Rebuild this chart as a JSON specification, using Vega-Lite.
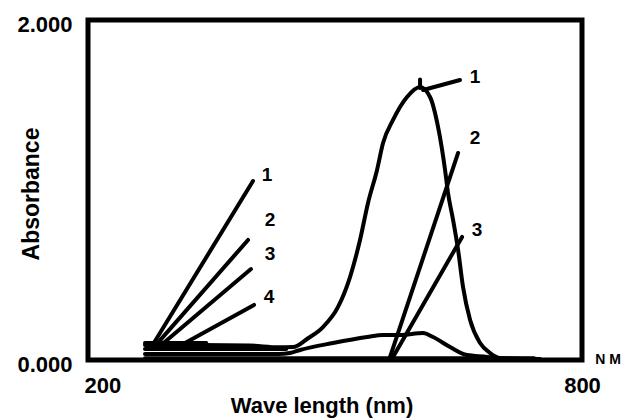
{
  "$schema": "https://vega.github.io/schema/vega-lite/v6.json",
  "width": 494,
  "height": 340,
  "autosize": "none",
  "padding": {"left": 88, "top": 20, "right": 43, "bottom": 60},
  "background": "white",
  "config": {
    "view": {"stroke": "black", "strokeWidth": 5},
    "font": "Liberation Sans"
  },
  "datasets": {
    "curves": [
      {"s": "c1", "o": 1, "x": 253.3, "y": 0.088},
      {"s": "c1", "o": 2, "x": 322.1, "y": 0.088},
      {"s": "c1", "o": 3, "x": 384.7, "y": 0.085},
      {"s": "c1", "o": 4, "x": 420.0, "y": 0.075},
      {"s": "c1", "o": 5, "x": 438.5, "y": 0.076},
      {"s": "c1", "o": 6, "x": 457.3, "y": 0.128},
      {"s": "c1", "o": 7, "x": 476.0, "y": 0.194},
      {"s": "c1", "o": 8, "x": 494.8, "y": 0.312},
      {"s": "c1", "o": 9, "x": 509.8, "y": 0.488},
      {"s": "c1", "o": 10, "x": 522.3, "y": 0.706},
      {"s": "c1", "o": 11, "x": 532.3, "y": 0.924},
      {"s": "c1", "o": 12, "x": 543.6, "y": 1.118},
      {"s": "c1", "o": 13, "x": 551.1, "y": 1.276},
      {"s": "c1", "o": 14, "x": 563.6, "y": 1.412},
      {"s": "c1", "o": 15, "x": 581.1, "y": 1.547},
      {"s": "c1", "o": 16, "x": 597.4, "y": 1.606},
      {"s": "c1", "o": 17, "x": 609.9, "y": 1.547},
      {"s": "c1", "o": 18, "x": 619.9, "y": 1.371},
      {"s": "c1", "o": 19, "x": 628.7, "y": 1.118},
      {"s": "c1", "o": 20, "x": 632.4, "y": 0.982},
      {"s": "c1", "o": 21, "x": 638.7, "y": 0.824},
      {"s": "c1", "o": 22, "x": 645.0, "y": 0.647},
      {"s": "c1", "o": 23, "x": 651.2, "y": 0.429},
      {"s": "c1", "o": 24, "x": 660.0, "y": 0.235},
      {"s": "c1", "o": 25, "x": 672.5, "y": 0.100},
      {"s": "c1", "o": 26, "x": 685.0, "y": 0.041},
      {"s": "c1", "o": 27, "x": 697.5, "y": 0.012},
      {"s": "c1", "o": 28, "x": 747.5, "y": 0.006},
      {"s": "bump", "o": 1, "x": 253.3, "y": 0.035},
      {"s": "bump", "o": 2, "x": 420.0, "y": 0.035},
      {"s": "bump", "o": 3, "x": 434.7, "y": 0.041},
      {"s": "bump", "o": 4, "x": 447.3, "y": 0.059},
      {"s": "bump", "o": 5, "x": 488.5, "y": 0.100},
      {"s": "bump", "o": 6, "x": 531.1, "y": 0.135},
      {"s": "bump", "o": 7, "x": 551.1, "y": 0.147},
      {"s": "bump", "o": 8, "x": 572.4, "y": 0.147},
      {"s": "bump", "o": 9, "x": 601.2, "y": 0.159},
      {"s": "bump", "o": 10, "x": 613.7, "y": 0.135},
      {"s": "bump", "o": 11, "x": 635.0, "y": 0.076},
      {"s": "bump", "o": 12, "x": 656.2, "y": 0.029},
      {"s": "bump", "o": 13, "x": 681.3, "y": 0.018},
      {"s": "bump", "o": 14, "x": 697.5, "y": 0.006},
      {"s": "base0", "o": 1, "x": 253.3, "y": 0.01},
      {"s": "base0", "o": 2, "x": 740.0, "y": 0.01},
      {"s": "base1", "o": 1, "x": 253.3, "y": 0.065},
      {"s": "base1", "o": 2, "x": 430.0, "y": 0.065},
      {"s": "base2", "o": 1, "x": 253.3, "y": 0.1},
      {"s": "base2", "o": 2, "x": 330.0, "y": 0.1},
      {"s": "L1", "o": 1, "x": 262.1, "y": 0.082},
      {"s": "L1", "o": 2, "x": 388.4, "y": 1.053},
      {"s": "L2", "o": 1, "x": 265.8, "y": 0.082},
      {"s": "L2", "o": 2, "x": 382.2, "y": 0.706},
      {"s": "L3", "o": 1, "x": 272.1, "y": 0.082},
      {"s": "L3", "o": 2, "x": 385.9, "y": 0.535},
      {"s": "L4", "o": 1, "x": 303.4, "y": 0.1},
      {"s": "L4", "o": 2, "x": 389.7, "y": 0.324},
      {"s": "R2", "o": 1, "x": 559.9, "y": 0.018},
      {"s": "R2", "o": 2, "x": 645.0, "y": 1.218},
      {"s": "R3", "o": 1, "x": 563.6, "y": 0.018},
      {"s": "R3", "o": 2, "x": 650.0, "y": 0.724},
      {"s": "lead1", "o": 1, "x": 601.2, "y": 1.588},
      {"s": "lead1", "o": 2, "x": 647.4, "y": 1.647},
      {"s": "tick", "o": 1, "x": 597.4, "y": 1.60},
      {"s": "tick", "o": 2, "x": 597.4, "y": 1.65}
    ],
    "labels": [
      {"t": "1", "x": 406.0, "y": 1.088},
      {"t": "2", "x": 409.7, "y": 0.824},
      {"t": "3", "x": 409.7, "y": 0.624},
      {"t": "4", "x": 408.5, "y": 0.371},
      {"t": "1", "x": 666.2, "y": 1.665},
      {"t": "2", "x": 666.2, "y": 1.306},
      {"t": "3", "x": 668.7, "y": 0.765}
    ],
    "unit": [
      {"t": "N M", "x": 832.6, "y": 0.0}
    ]
  },
  "layer": [
    {
      "data": {"name": "curves"},
      "mark": {"type": "line", "color": "black", "strokeWidth": 4, "interpolate": "monotone", "strokeCap": "round"},
      "encoding": {
        "x": {
          "field": "x", "type": "quantitative",
          "scale": {"domain": [182, 800], "nice": false, "zero": false},
          "axis": {
            "values": [200, 800], "grid": false, "domain": false, "ticks": false,
            "labelFont": "Liberation Sans", "labelFontWeight": "bold", "labelFontSize": 22,
            "labelColor": "black", "labelPadding": 15, "labelFlush": false,
            "title": "Wave length (nm)", "titleFont": "Liberation Sans", "titleFontWeight": "bold",
            "titleFontSize": 22, "titleColor": "black", "titleX": 233.5, "titleY": 52,
            "titleAlign": "center", "titleBaseline": "alphabetic"
          }
        },
        "y": {
          "field": "y", "type": "quantitative",
          "scale": {"domain": [0, 2], "nice": false},
          "axis": {
            "values": [0, 2], "format": ".3f", "grid": false, "domain": false, "ticks": false,
            "labelFont": "Liberation Sans", "labelFontWeight": "bold", "labelFontSize": 22,
            "labelColor": "black", "labelPadding": 16, "labelFlush": false, "labelOffset": 4,
            "labelBaseline": "middle",
            "title": "Absorbance", "titleFont": "Liberation Sans", "titleFontWeight": "bold",
            "titleFontSize": 23, "titleColor": "black", "titleX": -50, "titleY": 173.5,
            "titleAlign": "center", "titleBaseline": "alphabetic", "titleAngle": 270
          }
        },
        "detail": {"field": "s"},
        "order": {"field": "o"}
      }
    },
    {
      "data": {"name": "labels"},
      "mark": {"type": "text", "font": "Liberation Sans", "fontWeight": "bold", "fontSize": 19, "color": "black", "align": "center", "baseline": "middle"},
      "encoding": {
        "x": {"field": "x", "type": "quantitative"},
        "y": {"field": "y", "type": "quantitative"},
        "text": {"field": "t"}
      }
    },
    {
      "data": {"name": "unit"},
      "mark": {"type": "text", "font": "Liberation Sans", "fontWeight": "bold", "fontSize": 14, "color": "black", "align": "center", "baseline": "middle"},
      "encoding": {
        "x": {"field": "x", "type": "quantitative"},
        "y": {"field": "y", "type": "quantitative"},
        "text": {"field": "t"}
      }
    }
  ]
}
